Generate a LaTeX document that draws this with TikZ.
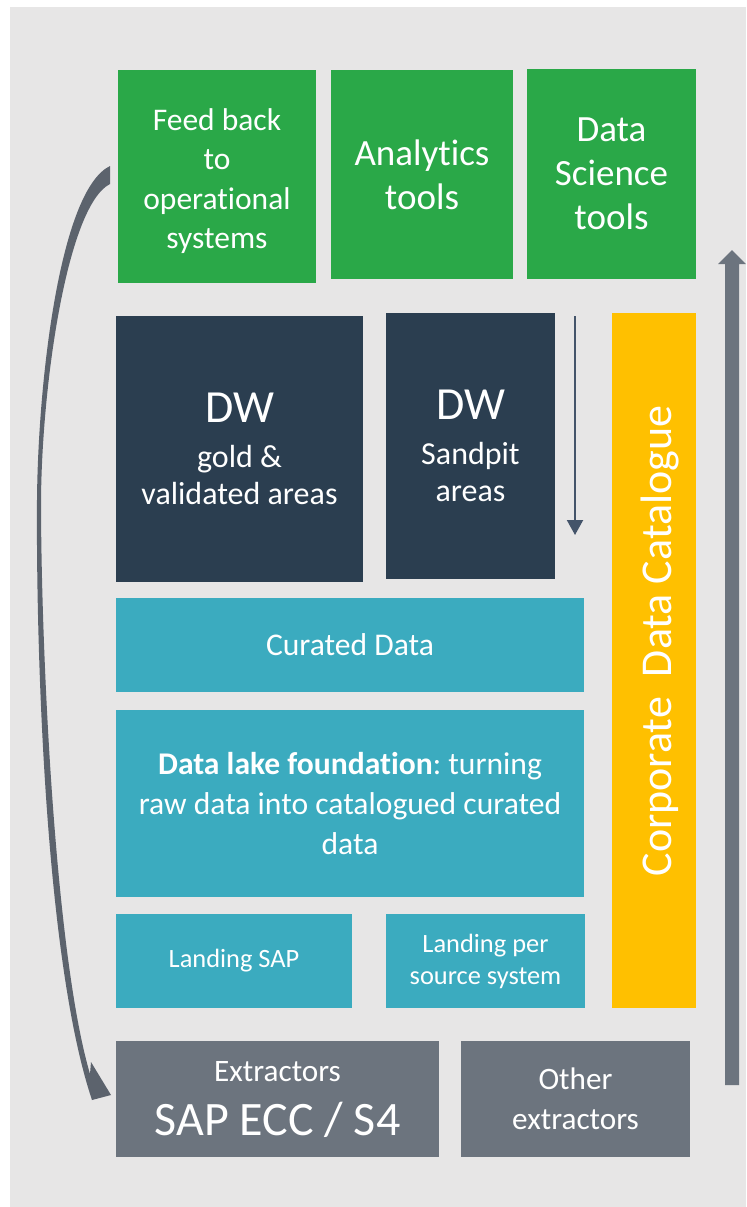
\documentclass[tikz,border=0pt]{standalone}
\usepackage{fontspec}
\setmainfont{Carlito}[Ligatures=NoCommon]
\frenchspacing
\usetikzlibrary{arrows.meta}
\definecolor{bggray}{RGB}{231,230,230}
\definecolor{toolgreen}{RGB}{42,168,72}
\definecolor{dwnavy}{RGB}{43,62,80}
\definecolor{laketeal}{RGB}{59,171,191}
\definecolor{catyellow}{RGB}{255,192,0}
\definecolor{extgray}{RGB}{108,116,126}
\definecolor{arrowgray}{RGB}{92,99,109}
\definecolor{flowblue}{RGB}{68,84,106}
\begin{document}
\begin{tikzpicture}[x=0.5pt, y=-0.5pt, line join=round, line cap=butt,
 box/.style={inner sep=0pt, outer sep=0pt, align=center, text=white},
 tool/.style={box, fill=toolgreen, font=\fontsize{18.5}{22}\selectfont},
 dw/.style={box, fill=dwnavy, font=\fontsize{16}{18.5}\selectfont},
 lake/.style={box, fill=laketeal, font=\fontsize{15.8}{20}\selectfont},
 landing/.style={box, fill=laketeal, font=\fontsize{13.2}{16}\selectfont},
 extr/.style={box, fill=extgray, font=\fontsize{15.6}{20}\selectfont}]
 \useasboundingbox (0,0) rectangle (746,1207);
 \fill[bggray] (10,7) rectangle (746,1207);
 % top row: consumers
 \node[tool, minimum width=99pt, minimum height=106.5pt, font=\fontsize{15.75}{19.7}\selectfont] (feedback) at (217,176.5) {\\[-4pt]Feed back\\to\\operational\\systems};
 \node[tool, minimum width=91pt, minimum height=104.5pt] (analytics) at (422,174.5) {Analytics\\tools};
 \node[tool, minimum width=84.5pt, minimum height=105pt] (science) at (611.5,174) {Data\\Science\\tools};
 % warehouse
 \node[dw, minimum width=123.5pt, minimum height=133pt] (dwgold) at (239.5,449) {{\fontsize{23}{27}\selectfont DW}\\[4pt]gold \&\\validated areas};
 \node[dw, minimum width=84.5pt, minimum height=133pt] (dwsandpit) at (470.5,446) {{\fontsize{23}{27}\selectfont DW}\\[4pt]Sandpit\\areas};
 \coordinate (flowtop) at (575,316);
 \coordinate (flowend) at (575,535);
 \draw[flowblue, line width=1pt, -{Triangle[width=8pt,length=7.5pt]}] (flowtop) -- (flowend);
 % lake
 \node[lake, minimum width=234pt, minimum height=47pt] (curated) at (350,645) {Curated Data};
 \node[lake, minimum width=234pt, minimum height=93.5pt] (foundation) at (350,803.5) {\textbf{Data lake foundation}: turning\\raw data into catalogued curated\\data};
 \node[landing, minimum width=118pt, minimum height=47pt] (landsap) at (234,961) {Landing SAP};
 \node[landing, minimum width=99.5pt, minimum height=47pt] (landsource) at (485.5,961) {Landing per\\source system};
 % catalogue
 \node[box, fill=catyellow, minimum width=42pt, minimum height=347.5pt] (catalogue) at (654,660.5) {};
 \node[text=white, rotate=90, anchor=base, inner sep=0pt, font=\fontsize{22}{26}\selectfont] (catlabel) at (671,641) {Corporate\ \ Data Catalogue};
 % extractors
 \node[extr, minimum width=161.5pt, minimum height=58pt] (extsap) at (277.5,1099) {Extractors\\[7pt]{\fontsize{24}{29}\selectfont SAP ECC / S4}};
 \node[extr, minimum width=114.5pt, minimum height=58pt] (extother) at (575.5,1099) {Other\\extractors};
 % arrows
 \fill[extgray] (725,1085)--(725,264)--(718,264)--(732,250)--(746,264)--(739,264)--(739,1085)--cycle;
 \fill[arrowgray] (110,166) .. controls (60,190) and (38,380) .. (37,500) .. controls (36,650) and (45,960) .. (92,1100)
  --(111,1095)--(91,1062)--(90,1074) .. controls (55,955) and (41,650) .. (41,500) .. controls (42,380) and (68,205) .. (110,184)--cycle;
\end{tikzpicture}
\end{document}
